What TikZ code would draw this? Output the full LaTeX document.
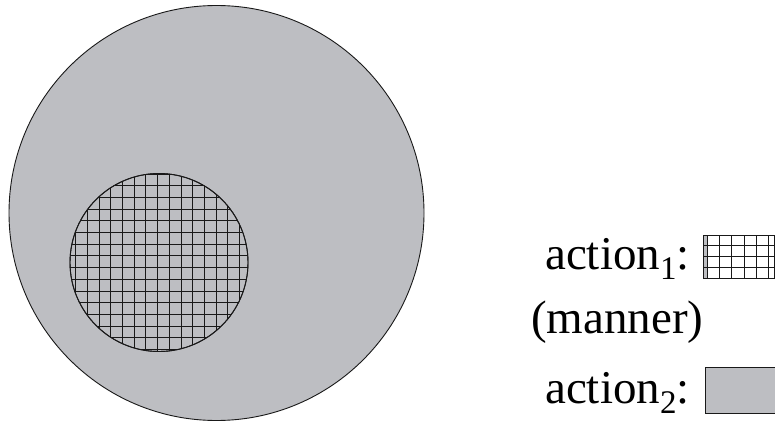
\documentclass[tikz,border=0pt]{standalone}
\usepackage{fontspec}
\setmainfont{Liberation Serif}
\definecolor{fillgray}{RGB}{189,190,194}
\definecolor{inkline}{RGB}{25,25,25}
\newcommand\lsub[1]{\raisebox{-10pt}{\fontsize{33}{33}\selectfont #1}}
\tikzset{
  setcircle/.style={circle, draw=inkline, line width=0.9pt, fill=fillgray, inner sep=0pt},
  gridline/.style={draw=inkline, line width=1.6pt},
  legendtext/.style={anchor=base west, inner sep=0pt, font=\fontsize{47}{56}\selectfont},
  legendbox/.style={draw=inkline, line width=1pt}
}
\begin{document}
\begin{tikzpicture}[x=1pt,y=-1pt]
\useasboundingbox (0,0) rectangle (775,422);
% big circle
\node[setcircle, minimum size=415pt] (big) at (216.5,213) {};
% small circle with grid
\node[setcircle, minimum size=178pt] (small) at (159,262.5) {};
\begin{scope}
  \clip (small.center) circle[radius=89pt];
  \foreach \i in {-8,...,8} {
    \pgfmathsetmacro\gx{floor(157.6+11.7*\i)+0.5}
    \pgfmathsetmacro\gy{floor(267.6+11.7*\i)+0.5}
    \draw[gridline] (\gx,150) -- (\gx,380);
    \draw[gridline] (40,\gy) -- (280,\gy);
  }
\end{scope}
\draw[draw=inkline, line width=0.9pt] (small.center) circle[radius=89pt];
% legend texts
\node[legendtext] (t1) at (545,269) {action\lsub{1}:};
\node[legendtext] (t2) at (531,333) {(manner)};
\node[legendtext] (t3) at (545,403) {action\lsub{2}:};
% legend box 1 (grid)
\node[inner sep=0pt, minimum width=71.5pt, minimum height=43pt, anchor=north west, fill=white] (b1) at (703,235) {};
\fill[fillgray] (b1.north west) rectangle (707,278);
\foreach \x in {707.5,719.5,731.5,744.5,756.5,768.5}
  \draw[gridline] (\x,235) -- (\x,278);
\foreach \y in {245.5,256.5,267.5}
  \draw[gridline] (703,\y) -- (774.5,\y);
\draw[legendbox] (b1.north west) rectangle (b1.south east);
% legend box 2 (gray)
\node[legendbox, fill=fillgray, inner sep=0pt, minimum width=69.5pt, minimum height=46pt, anchor=north west] (b2) at (705,367) {};
\end{tikzpicture}
\end{document}
